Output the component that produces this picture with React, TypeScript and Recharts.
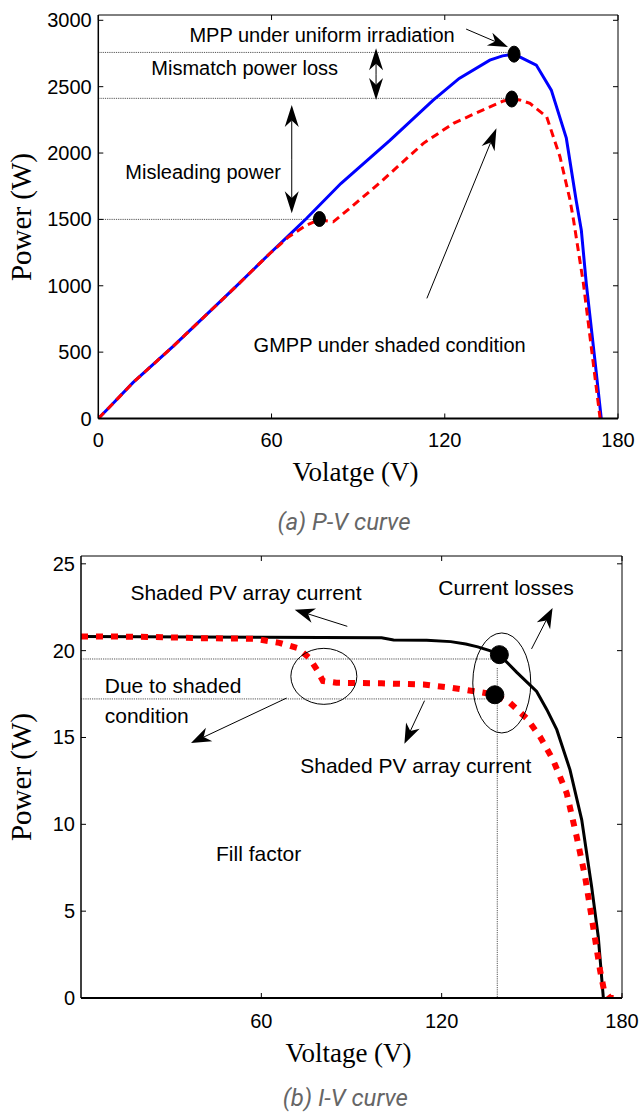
import React from 'react';
import { ComposedChart, Line, XAxis, YAxis, ReferenceLine, ReferenceDot } from 'recharts';

// ---------- P-V curve data ----------
const pvVoltUniform = [0, 4, 12, 26, 36, 47, 59.5, 66, 72, 84, 101, 116, 125, 135.6, 140, 144, 151.7, 156.9, 162.1, 165.5, 167.3, 169, 172, 174.2];
const pvPowerUniform = [0, 88, 270, 545, 752, 980, 1245, 1380, 1505, 1770, 2095, 2399, 2562, 2700, 2732, 2745, 2663, 2474, 2112, 1645, 1419, 1019, 440, 0];
const pvVoltShaded = [0, 4, 12, 26, 36, 47, 59.5, 66, 72.2, 76.5, 81.4, 88, 97.6, 112.6, 123, 134.5, 140, 143.2, 146, 149.5, 155.3, 159.9, 163.4, 164.6, 168, 173.8];
const pvPowerShaded = [0, 88, 270, 545, 752, 980, 1245, 1370, 1458, 1497, 1482, 1600, 1778, 2073, 2224, 2337, 2390, 2407, 2400, 2374, 2273, 1972, 1645, 1495, 1021, 0];

// ---------- I-V curve data ----------
const ivVoltUniform = [0, 20, 60, 100, 104, 115, 123, 128, 132, 136, 139.2, 145, 151.6, 155, 158.3, 162.7, 166.6, 169.9, 172.1, 173.8];
const ivCurrUniform = [20.82, 20.8, 20.77, 20.74, 20.62, 20.6, 20.52, 20.38, 20.22, 20.0, 19.77, 18.75, 17.65, 16.6, 15.45, 13.14, 10.26, 6.41, 3.53, 0];
const ivVoltShaded = [0, 20, 40, 58, 66, 72, 76, 78.5, 80.5, 85, 100, 114, 123, 131.5, 137.7, 142.7, 148.3, 152.7, 157.1, 161.6, 164.9, 167.7, 170.4, 172.7, 174, 176, 180];
const ivCurrShaded = [20.82, 20.8, 20.72, 20.68, 20.45, 20.15, 19.58, 18.9, 18.25, 18.15, 18.12, 18.05, 17.87, 17.65, 17.46, 17.0, 16.1, 15.05, 13.7, 11.8, 9.3, 7.0, 4.1, 1.6, 0.45, 0, 0];

// ---------- ticks ----------
const pvXTicks = [0, 60, 120, 180];
const pvYTicks = [0, 500, 1000, 1500, 2000, 2500, 3000];
const ivXTicks = [60, 120, 180];
const ivYTicks = [0, 5, 10, 15, 20, 25];
const pvXDomain = [0, 180];
const pvYDomain = [0, 3040];
const ivXDomain = [0, 180];
const ivYDomain = [0, 25.45];

// ---------- annotations (data coordinates) ----------
const pvNoteText = ['MPP under uniform irradiation', 'Mismatch power loss', 'Misleading power', 'GMPP under shaded condition'];
const pvNoteV = [77.5, 50.7, 36.3, 100.9];
const pvNoteP = [2889, 2640, 1857, 554];

const pvMarkV = [144, 143.2, 76.6];
const pvMarkP = [2745, 2407, 1503];

const pvGuideP = [2758, 2412, 1500];
const pvGuideEndV = [141.9, 141.5, 74.4];

const pvArrowFrom = [[127.4, 2934], [96.2, 2594], [67.0, 1954], [113.8, 905]];
const pvArrowTo = [[141.9, 2799], [96.2, 2789], [67.0, 2361], [137.9, 2186]];
const pvArrowFrom2 = [null, [96.2, 2594], [67.0, 1954], null];
const pvArrowTo2 = [null, [96.2, 2399], [67.0, 1546], null];

const ivNoteText = ['Shaded PV array current', 'Current losses', 'Due to shaded', 'condition', 'Shaded PV array current', 'Fill factor'];
const ivNoteV = [54.9, 141.4, 7.9, 7.9, 111.4, 59.1];
const ivNoteI = [23.36, 23.63, 18.0, 16.27, 13.39, 8.34];
const ivNoteAnchor = ['middle', 'middle', 'start', 'start', 'middle', 'middle'];

const ivMarkV = [139.2, 137.7];
const ivMarkI = [19.77, 17.46];

const ivEllipseV = [80.8, 140];
const ivEllipseI = [18.52, 18.14];

const ivGuideI = [19.52, 17.22];
const ivGuideEndV = [136.6, 135];
const ivVertV = 138.5;
const ivVertTopI = 19.0;

const ivArrowFrom = [[88.6, 21.4], [149.9, 20.1], [68.4, 17.27], [114.3, 17.12]];
const ivArrowTo = [[71.1, 22.36], [156.9, 22.46], [36.6, 14.68], [107.6, 14.64]];

// ---------- styles ----------
const SANS = "'Liberation Sans', Arial, Helvetica, sans-serif";
const SERIF = "'Liberation Serif', 'Times New Roman', serif";

const zip = (xs: number[], ys: number[]) => xs.map((v, i) => ({ v, y: ys[i] }));

const headPoints = (x1: number, y1: number, x2: number, y2: number, len: number, hw: number) => {
  const dx = x2 - x1, dy = y2 - y1;
  const L = Math.hypot(dx, dy) || 1;
  const ux = dx / L, uy = dy / L;
  const px = -uy, py = ux;
  const bx = x2 - ux * len, by = y2 - uy * len;
  const nx = x2 - ux * len * 0.7, ny = y2 - uy * len * 0.7;
  return {
    pts: `${x2},${y2} ${bx + px * hw},${by + py * hw} ${nx},${ny} ${bx - px * hw},${by - py * hw}`,
    nx, ny,
  };
};

const arrowShape = (len: number, hw: number) => (props: any) => {
  const { x1, y1, x2, y2 } = props;
  if ([x1, y1, x2, y2].some((a) => typeof a !== 'number' || isNaN(a))) return <g />;
  const h = headPoints(x1, y1, x2, y2, len, hw);
  return (
    <g>
      <line x1={x1} y1={y1} x2={h.nx} y2={h.ny} stroke="#000" strokeWidth={1} />
      <polygon points={h.pts} fill="#000" />
    </g>
  );
};

const makeTick = (side: string, showLabel: boolean, fontSize: number, off: number) => (props: any) => {
  const { x, y, payload } = props;
  const L = 5;
  const label = String(payload.value);
  if (side === 'left') {
    return (
      <g>
        <line x1={x} y1={y} x2={x + L} y2={y} stroke="#000" strokeWidth={1} />
        {showLabel && (
          <text x={x - off} y={y + 7} textAnchor="end" fontSize={fontSize} fontFamily={SANS} fill="#000">{label}</text>
        )}
      </g>
    );
  }
  if (side === 'right') {
    return <line x1={x} y1={y} x2={x - L} y2={y} stroke="#000" strokeWidth={1} />;
  }
  if (side === 'top') {
    return <line x1={x} y1={y} x2={x} y2={y + L} stroke="#000" strokeWidth={1} />;
  }
  return (
    <g>
      <line x1={x} y1={y} x2={x} y2={y - L} stroke="#000" strokeWidth={1} />
      {showLabel && (
        <text x={x} y={y + off} textAnchor="middle" fontSize={fontSize} fontFamily={SANS} fill="#000">{label}</text>
      )}
    </g>
  );
};

const textShape = (text: string, anchor: string, fontSize: number) => (props: any) => (
  <text x={props.cx} y={props.cy + fontSize * 0.36} textAnchor={anchor} fontSize={fontSize} fontFamily={SANS} fill="#000">{text}</text>
);

const ellipseShape = (rx: number, ry: number, fill: string) => (props: any) => (
  <ellipse cx={props.cx} cy={props.cy} rx={rx} ry={ry} fill={fill} stroke="#000" strokeWidth={1} />
);

const AX = { xAxisId: 'b', yAxisId: 'l' };

function PVChart() {
  const uniform = zip(pvVoltUniform, pvPowerUniform);
  const shaded = zip(pvVoltShaded, pvPowerShaded);
  return (
    <ComposedChart width={639} height={540} margin={{ top: 14, right: 20, bottom: 120.5, left: 97.3 }}>
      <XAxis xAxisId="b" type="number" dataKey="v" domain={pvXDomain} ticks={pvXTicks} interval={0} allowDataOverflow
        height={1} tickSize={0} tickMargin={0} tickLine={false} axisLine={{ stroke: '#000', strokeWidth: 2 }}
        tick={makeTick('bottom', true, 20, 28)} />
      <XAxis xAxisId="t" orientation="top" type="number" dataKey="v" domain={pvXDomain} ticks={pvXTicks} interval={0} allowDataOverflow
        height={1} tickSize={0} tickMargin={0} tickLine={false} axisLine={{ stroke: '#000', strokeWidth: 1 }}
        tick={makeTick('top', false, 20, 0)} />
      <YAxis yAxisId="l" type="number" domain={pvYDomain} ticks={pvYTicks} interval={0} allowDataOverflow
        width={1} tickSize={0} tickMargin={0} tickLine={false} axisLine={{ stroke: '#000', strokeWidth: 1.5 }}
        tick={makeTick('left', true, 20, 6.6)} />
      <YAxis yAxisId="r" orientation="right" type="number" domain={pvYDomain} ticks={pvYTicks} interval={0} allowDataOverflow
        width={1} tickSize={0} tickMargin={0} tickLine={false} axisLine={{ stroke: '#000', strokeWidth: 1 }}
        tick={makeTick('right', false, 20, 0)} />

      {pvGuideP.map((p, i) => (
        <ReferenceLine key={'g' + i} {...AX} ifOverflow="visible" segment={[{ x: 0, y: p }, { x: pvGuideEndV[i], y: p }]}
          stroke="#555" strokeWidth={1} strokeDasharray="1.2 1" />
      ))}

      <Line {...AX} data={uniform} dataKey="y" type="linear" stroke="#0000ff" strokeWidth={3} dot={false} activeDot={false} isAnimationActive={false} />
      <Line {...AX} data={shaded} dataKey="y" type="linear" stroke="#ff0000" strokeWidth={3} strokeDasharray="8 5" dot={false} activeDot={false} isAnimationActive={false} />

      {pvMarkV.map((v, i) => (
        <ReferenceDot key={'m' + i} {...AX} ifOverflow="visible" x={v} y={pvMarkP[i]} r={6} shape={ellipseShape(6, i === 2 ? 7.5 : 8, '#000')} />
      ))}

      {pvArrowFrom.map((f, i) => (
        <ReferenceLine key={'a' + i} {...AX} ifOverflow="visible" segment={[{ x: f[0], y: f[1] }, { x: pvArrowTo[i][0], y: pvArrowTo[i][1] }]}
          shape={arrowShape(i === 0 ? 20 : 22, 7)} />
      ))}
      {pvArrowFrom2.map((f, i) => f && pvArrowTo2[i] ? (
        <ReferenceLine key={'a2' + i} {...AX} ifOverflow="visible" segment={[{ x: f[0], y: f[1] }, { x: pvArrowTo2[i]![0], y: pvArrowTo2[i]![1] }]}
          shape={arrowShape(22, 7)} />
      ) : null)}

      {pvNoteText.map((t, i) => (
        <ReferenceDot key={'n' + i} {...AX} ifOverflow="visible" x={pvNoteV[i]} y={pvNoteP[i]} r={1} shape={textShape(t, 'middle', 20)} />
      ))}
    </ComposedChart>
  );
}

function IVChart() {
  const uniform = zip(ivVoltUniform, ivCurrUniform);
  const shaded = zip(ivVoltShaded, ivCurrShaded);
  return (
    <ComposedChart width={639} height={572} margin={{ top: 15, right: 16, bottom: 113, left: 80 }}>
      <XAxis xAxisId="b" type="number" dataKey="v" domain={ivXDomain} ticks={ivXTicks} interval={0} allowDataOverflow
        height={1} tickSize={0} tickMargin={0} tickLine={false} axisLine={{ stroke: '#000', strokeWidth: 2 }}
        tick={makeTick('bottom', true, 20, 30)} />
      <XAxis xAxisId="t" orientation="top" type="number" dataKey="v" domain={ivXDomain} ticks={ivXTicks} interval={0} allowDataOverflow
        height={1} tickSize={0} tickMargin={0} tickLine={false} axisLine={{ stroke: '#000', strokeWidth: 1 }}
        tick={makeTick('top', false, 20, 0)} />
      <YAxis yAxisId="l" type="number" domain={ivYDomain} ticks={ivYTicks} interval={0} allowDataOverflow
        width={1} tickSize={0} tickMargin={0} tickLine={false} axisLine={{ stroke: '#000', strokeWidth: 1.5 }}
        tick={makeTick('left', true, 20, 6)} />
      <YAxis yAxisId="r" orientation="right" type="number" domain={ivYDomain} ticks={ivYTicks} interval={0} allowDataOverflow
        width={1} tickSize={0} tickMargin={0} tickLine={false} axisLine={{ stroke: '#000', strokeWidth: 1 }}
        tick={makeTick('right', false, 20, 0)} />

      {ivGuideI.map((c, i) => (
        <ReferenceLine key={'g' + i} {...AX} ifOverflow="visible" segment={[{ x: 0, y: c }, { x: ivGuideEndV[i], y: c }]}
          stroke="#555" strokeWidth={1} strokeDasharray="1.2 1" />
      ))}
      <ReferenceLine {...AX} ifOverflow="visible" segment={[{ x: ivVertV, y: ivVertTopI }, { x: ivVertV, y: 0 }]}
        stroke="#555" strokeWidth={1} strokeDasharray="1.2 1" />

      <Line {...AX} data={uniform} dataKey="y" type="linear" stroke="#000" strokeWidth={3} dot={false} activeDot={false} isAnimationActive={false} />
      <Line {...AX} data={shaded} dataKey="y" type="linear" stroke="#ff0000" strokeWidth={6} strokeDasharray="7 8" strokeLinecap="butt" dot={false} activeDot={false} isAnimationActive={false} />

      <ReferenceDot {...AX} ifOverflow="visible" x={ivEllipseV[0]} y={ivEllipseI[0]} r={1} shape={ellipseShape(33, 28, 'none')} />
      <ReferenceDot {...AX} ifOverflow="visible" x={ivEllipseV[1]} y={ivEllipseI[1]} r={1} shape={ellipseShape(29, 50, 'none')} />

      {ivMarkV.map((v, i) => (
        <ReferenceDot key={'m' + i} {...AX} ifOverflow="visible" x={v} y={ivMarkI[i]} r={9} shape={ellipseShape(9, 9, '#000')} />
      ))}

      {ivArrowFrom.map((f, i) => (
        <ReferenceLine key={'a' + i} {...AX} ifOverflow="visible" segment={[{ x: f[0], y: f[1] }, { x: ivArrowTo[i][0], y: ivArrowTo[i][1] }]}
          shape={arrowShape(20, 7.5)} />
      ))}

      {ivNoteText.map((t, i) => (
        <ReferenceDot key={'n' + i} {...AX} ifOverflow="visible" x={ivNoteV[i]} y={ivNoteI[i]} r={1} shape={textShape(t, ivNoteAnchor[i], 21)} />
      ))}
    </ComposedChart>
  );
}

export default function App() {
  return (
    <div style={{ position: 'absolute', left: 0, top: 0, width: 639, height: 1112, background: '#fff', overflow: 'hidden' }}>
      <div style={{ position: 'absolute', left: 0, top: 0 }}>
        <PVChart />
      </div>
      <div style={{ position: 'absolute', left: 0, top: 540 }}>
        <IVChart />
      </div>
      <svg width={639} height={1112} style={{ position: 'absolute', left: 0, top: 0, pointerEvents: 'none' }}>
        <text transform="translate(31,217) rotate(-90)" textAnchor="middle" fontSize={29} fontFamily={SERIF} fill="#000">Power (W)</text>
        <text x={355.5} y={481} textAnchor="middle" fontSize={27} fontFamily={SERIF} fill="#000">Volatge (V)</text>
        <text x={344} y={530} textAnchor="middle" fontSize={24} fontStyle="italic" fontFamily="Roboto, 'Liberation Sans', sans-serif" fill="#666">(a) P-V curve</text>
        <text transform="translate(31,777) rotate(-90)" textAnchor="middle" fontSize={29} fontFamily={SERIF} fill="#000">Power (W)</text>
        <text x={348.5} y={1062} textAnchor="middle" fontSize={27} fontFamily={SERIF} fill="#000">Voltage (V)</text>
        <text x={345.4} y={1106} textAnchor="middle" fontSize={24} fontStyle="italic" fontFamily="Roboto, 'Liberation Sans', sans-serif" fill="#666">(b) I-V curve</text>
      </svg>
    </div>
  );
}
